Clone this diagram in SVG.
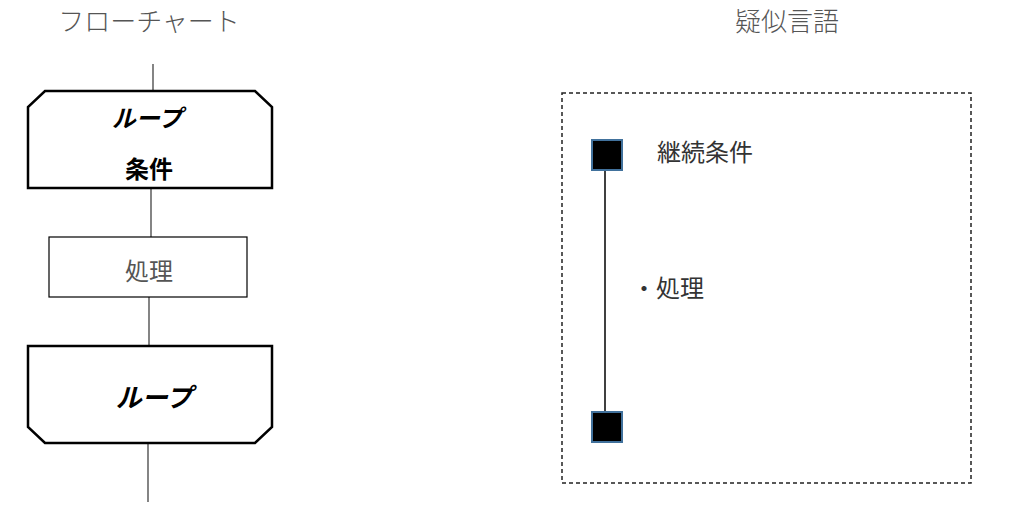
<svg xmlns="http://www.w3.org/2000/svg" width="1029" height="513" viewBox="0 0 1029 513">
<style>
.t{font-family:"Noto Sans CJK JP","Noto Sans CJK SC",sans-serif;}
.title{font-size:26px;fill:#555;font-weight:300;}
.lbl{font-size:24px;fill:#333;}
.bold{font-size:24px;fill:#000;font-weight:bold;}
.shape{fill:#fff;stroke:#000;stroke-width:2.5;}
.proc{fill:#fff;stroke:#000;stroke-width:1.2;}
.conn{stroke:#333;stroke-width:1.2;fill:none;}
.sq{fill:#000;stroke:#41719C;stroke-width:2;}
</style>
<rect width="1029" height="513" fill="#fff"/>
<text class="t title" x="149" y="31" text-anchor="middle">フローチャート</text>
<text class="t title" x="787" y="31" text-anchor="middle">疑似言語</text>
<g id="connectors">
<line class="conn" x1="153" y1="64" x2="153" y2="91"/>
<line class="conn" x1="151" y1="188" x2="151" y2="237"/>
<line class="conn" x1="149" y1="297" x2="149" y2="346"/>
<line class="conn" x1="148" y1="443" x2="148" y2="502"/>
</g>
<g id="loop-start">
<path class="shape" d="M45,91 L255,91 L272,107 L272,188 L28,188 L28,107 Z"/>
<text class="t bold" x="147" y="127" text-anchor="middle" font-style="italic">ループ</text>
<text class="t bold" x="149" y="178" text-anchor="middle">条件</text>
</g>
<g id="process">
<rect class="proc" x="49" y="237" width="198" height="60"/>
<text class="t lbl" x="149" y="280" text-anchor="middle" style="fill:#555">処理</text>
</g>
<g id="loop-end">
<path class="shape" d="M28,346 L272,346 L272,427 L255,443 L45,443 L28,427 Z"/>
<text class="t bold" x="154" y="407" text-anchor="middle" font-style="italic" style="font-size:26px">ループ</text>
</g>
<g id="pseudo">
<rect x="562" y="93" width="409" height="390" fill="none" stroke="#222" stroke-width="1.5" stroke-dasharray="4,3"/>
<line x1="605" y1="171" x2="605" y2="411" stroke="#000" stroke-width="1.5"/>
<rect class="sq" x="592" y="140" width="30" height="30"/>
<rect class="sq" x="592" y="412" width="30" height="30"/>
<text class="t lbl" x="657" y="161">継続条件</text>
<text class="t lbl" x="632" y="297">・処理</text>
</g>
</svg>
